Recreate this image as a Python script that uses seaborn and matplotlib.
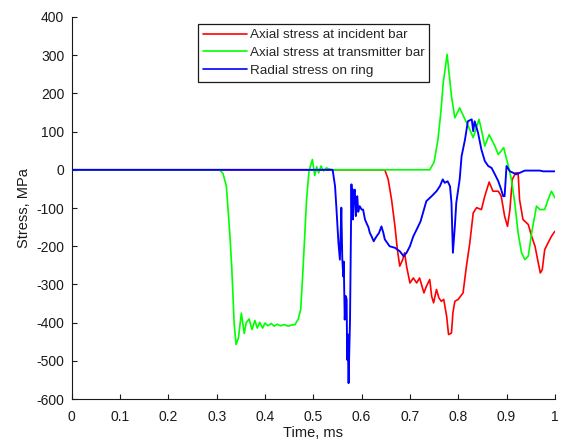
import pandas as pd
import matplotlib
matplotlib.use('Agg')
import matplotlib.pyplot as plt
import seaborn as sns

# Axial stress at incident bar
t_inc = [0, 0.648, 0.655, 0.662, 0.669, 0.674, 0.679, 0.685, 0.689, 0.693,
         0.700, 0.707, 0.714, 0.720, 0.729, 0.734, 0.741, 0.745, 0.749, 0.755,
         0.760, 0.765, 0.770, 0.776, 0.780, 0.786, 0.789, 0.793, 0.800, 0.810,
         0.817, 0.824, 0.831, 0.838, 0.848, 0.855, 0.864, 0.872, 0.883, 0.889,
         0.896, 0.902, 0.907, 0.912, 0.919, 0.924, 0.927, 0.934, 0.945, 0.952,
         0.959, 0.965, 0.970, 0.974, 0.979, 0.986, 0.993, 1.0]
s_inc = [0, 0, -25, -78, -148, -209, -252, -235, -217, -252,
         -296, -283, -296, -283, -322, -305, -287, -331, -348, -313,
         -335, -344, -339, -383, -431, -427, -374, -344, -339, -322,
         -252, -191, -113, -99, -104, -69, -32, -56, -56, -69,
         -121, -148, -104, -25, -8, -8, -78, -130, -143, -174,
         -200, -239, -270, -261, -209, -191, -174, -161]

# Axial stress at transmitter bar
t_tra = [0, 0.306, 0.313, 0.320, 0.327, 0.331, 0.334, 0.336, 0.340, 0.345,
         0.351, 0.357, 0.361, 0.367, 0.373, 0.379, 0.384, 0.389, 0.395, 0.400,
         0.406, 0.413, 0.419, 0.425, 0.432, 0.440, 0.448, 0.455, 0.462, 0.469,
         0.474, 0.479, 0.486, 0.491, 0.498, 0.503, 0.507, 0.511, 0.516, 0.521,
         0.527, 0.533, 0.540, 0.741, 0.750, 0.758, 0.764, 0.769, 0.777, 0.786,
         0.793, 0.803, 0.814, 0.824, 0.831, 0.843, 0.848, 0.855, 0.864, 0.876,
         0.883, 0.894, 0.903, 0.910, 0.917, 0.924, 0.931, 0.938, 0.945, 0.952,
         0.962, 0.969, 0.979, 0.986, 0.993, 1.0]
s_tra = [0, 0, -10, -43, -165, -252, -339, -400, -457, -440,
         -375, -428, -400, -390, -418, -394, -414, -399, -414, -401,
         -408, -402, -409, -404, -408, -405, -409, -406, -405, -390,
         -364, -252, -78, -4, 27, -15, 8, -8, 10, -3,
         5, 2, 0, 0, 20, 79, 150, 228, 302, 193,
         136, 162, 132, 105, 84, 132, 105, 62, 92, 62,
         40, 58, 14, -25, -86, -165, -217, -235, -226, -165,
         -95, -104, -104, -78, -56, -73]

# Radial stress on ring
t_rad = [0, 0.540, 0.545, 0.548, 0.552, 0.555, 0.557, 0.558, 0.560, 0.562,
         0.563, 0.565, 0.567, 0.569, 0.570, 0.571, 0.573, 0.574, 0.576, 0.578,
         0.579, 0.580, 0.581, 0.582, 0.584, 0.586, 0.588, 0.589, 0.591, 0.593,
         0.596, 0.600, 0.603, 0.607, 0.610, 0.614, 0.617, 0.621, 0.625, 0.628,
         0.631, 0.636, 0.641, 0.645, 0.648, 0.658, 0.669, 0.679, 0.687, 0.693,
         0.700, 0.707, 0.714, 0.722, 0.729, 0.734, 0.745, 0.755, 0.762, 0.768,
         0.772, 0.778, 0.783, 0.786, 0.789, 0.793, 0.796, 0.803, 0.807, 0.814,
         0.820, 0.828, 0.831, 0.834, 0.841, 0.848, 0.855, 0.862, 0.869, 0.876,
         0.883, 0.889, 0.893, 0.896, 0.900, 0.907, 0.914, 0.920, 0.927, 0.938,
         0.969, 0.976, 1.0]
s_rad = [0, 0, -43, -104, -191, -235, -150, -99, -235, -279,
         -240, -392, -330, -339, -497, -430, -558, -500, -392, -150,
         -38, -120, -50, -130, -60, -52, -121, -80, -69, -110,
         -95, -104, -104, -130, -139, -150, -165, -175, -187, -180,
         -174, -165, -148, -165, -182, -200, -204, -213, -226, -217,
         -200, -174, -156, -135, -104, -82, -69, -56, -43, -25,
         -34, -30, -43, -86, -217, -148, -86, -25, 36, 79,
         127, 132, 101, 127, 97, 53, 23, 10, 5, -12,
         -30, -52, -69, -69, 10, -4, -8, -12, -8, -2,
         -2, -4, -4]

labels = ['Axial stress at incident bar', 'Axial stress at transmitter bar', 'Radial stress on ring']
colors = ['#ff0000', '#00ff00', '#0000ff']
x_ticks = [0, 0.1, 0.2, 0.3, 0.4, 0.5, 0.6, 0.7, 0.8, 0.9, 1.0]
x_ticklabels = ['0', '0.1', '0.2', '0.3', '0.4', '0.5', '0.6', '0.7', '0.8', '0.9', '1']
y_ticks = [-600, -500, -400, -300, -200, -100, 0, 100, 200, 300, 400]

df = pd.concat([
    pd.DataFrame({'Time': t_inc, 'Stress': s_inc, 'Series': labels[0]}),
    pd.DataFrame({'Time': t_tra, 'Stress': s_tra, 'Series': labels[1]}),
    pd.DataFrame({'Time': t_rad, 'Stress': s_rad, 'Series': labels[2]}),
], ignore_index=True)

sns.set_style('ticks')
plt.rcParams['font.family'] = ['Liberation Sans', 'DejaVu Sans']
plt.rcParams['axes.unicode_minus'] = False

fig = plt.figure(figsize=(5.61, 4.45), dpi=100)
ax = fig.add_axes([0.128, 0.103, 0.861, 0.859])

sns.lineplot(data=df, x='Time', y='Stress', hue='Series', hue_order=labels,
             palette=dict(zip(labels, colors)), estimator=None, sort=False,
             linewidth=1.2, ax=ax)
# blue a touch wider so the shared zero line reads as blue
for line in ax.lines:
    if line.get_color() == '#0000ff':
        line.set_linewidth(1.35)
        line.set_zorder(3)

ax.set_xlim(0, 1)
ax.set_ylim(-600, 400)
ax.set_xticks(x_ticks)
ax.set_xticklabels(x_ticklabels)
ax.set_yticks(y_ticks)
ax.tick_params(direction='in', length=3.5, width=0.8, labelsize=10, colors='#1a1a1a')
ax.tick_params(axis='x', pad=7.5)
ax.tick_params(axis='y', pad=5.5)
for side in ['top', 'right']:
    ax.spines[side].set_visible(False)
for side in ['left', 'bottom']:
    ax.spines[side].set_color('#1a1a1a')
    ax.spines[side].set_linewidth(0.8)
ax.set_xlabel('Time, ms', fontsize=10.5, color='#1a1a1a', labelpad=2)
ax.set_ylabel('Stress, MPa', fontsize=10.5, color='#1a1a1a', labelpad=4)

handles, lbls = ax.get_legend_handles_labels()
leg = ax.legend(handles, lbls, loc='upper left', bbox_to_anchor=(0.261, 0.981),
                borderaxespad=0, fontsize=9.7, handlelength=3.3, handletextpad=0.2,
                labelspacing=0.4, borderpad=0.35, fancybox=False, framealpha=1,
                edgecolor='#1a1a1a')
leg.get_frame().set_linewidth(0.9)
for h in leg.get_lines():
    h.set_linewidth(1.2)

plt.savefig('out.png', dpi=100)
